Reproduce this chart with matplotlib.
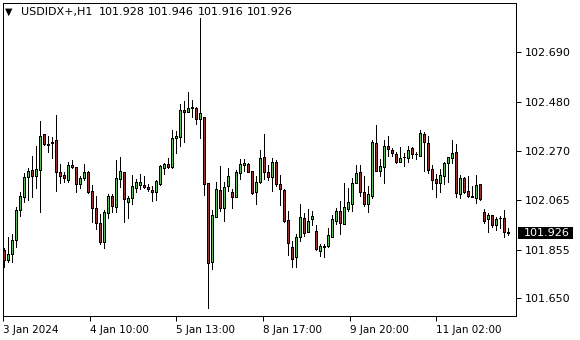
import matplotlib
matplotlib.use("Agg")
import matplotlib.pyplot as plt
import matplotlib.patches as mpatches
import numpy as np

symbol = "USDIDX+,H1"

# hourly OHLC
opens = [
    101.853, 101.812, 101.835, 101.894, 102.021, 102.077, 102.160, 102.190, 102.167, 102.192,
    102.342, 102.298, 102.311, 102.318, 102.181, 102.170, 102.150, 102.212, 102.202, 102.131,
    102.158, 102.184, 102.101, 102.029, 101.968, 101.885, 102.010, 102.081, 102.033, 102.152,
    102.181, 102.057, 102.071, 102.114, 102.128, 102.128, 102.119, 102.105, 102.097, 102.133,
    102.201, 102.216, 102.205, 102.328, 102.332, 102.445, 102.438, 102.455, 102.452, 102.405,
    102.414, 102.135, 101.803, 101.994, 102.105, 102.032, 102.125, 102.097, 102.078, 102.180,
    102.213, 102.216, 102.187, 102.099, 102.139, 102.246, 102.181, 102.163, 102.224, 102.132,
    102.108, 101.980, 101.867, 101.822, 101.909, 101.987, 101.928, 101.983, 101.933, 101.850,
    101.867, 101.871, 101.909, 101.977, 102.016, 101.964, 102.026, 102.049, 102.137, 102.181,
    102.098, 102.046, 102.082, 102.305, 102.186, 102.205, 102.293, 102.276, 102.257, 102.226,
    102.244, 102.241, 102.283, 102.258, 102.252, 102.343, 102.305, 102.194, 102.153, 102.135,
    102.167, 102.222, 102.241, 102.266, 102.088, 102.156, 102.102, 102.080, 102.074, 102.131,
    102.012, 101.983, 102.000, 101.957, 101.989, 101.987, 101.928,
]
highs = [
    101.861, 101.909, 101.920, 102.036, 102.097, 102.177, 102.198, 102.252, 102.293, 102.398,
    102.345, 102.335, 102.332, 102.424, 102.216, 102.181, 102.226, 102.233, 102.204, 102.167,
    102.216, 102.187, 102.128, 102.081, 102.004, 102.021, 102.088, 102.088, 102.233, 102.246,
    102.183, 102.081, 102.170, 102.153, 102.173, 102.166, 102.133, 102.123, 102.149, 102.212,
    102.222, 102.243, 102.360, 102.357, 102.469, 102.483, 102.520, 102.487, 102.456, 102.834,
    102.416, 102.136, 102.022, 102.142, 102.208, 102.142, 102.198, 102.109, 102.190, 102.238,
    102.238, 102.219, 102.188, 102.166, 102.276, 102.342, 102.212, 102.241, 102.233, 102.170,
    102.109, 102.018, 101.891, 101.919, 102.047, 102.008, 102.026, 102.018, 101.958, 101.877,
    101.877, 101.945, 102.001, 102.029, 102.060, 102.136, 102.116, 102.156, 102.212, 102.212,
    102.166, 102.123, 102.318, 102.381, 102.238, 102.318, 102.335, 102.283, 102.268, 102.290,
    102.262, 102.293, 102.287, 102.268, 102.360, 102.353, 102.335, 102.212, 102.173, 102.194,
    102.226, 102.247, 102.318, 102.301, 102.170, 102.163, 102.166, 102.123, 102.170, 102.132,
    102.026, 102.008, 102.001, 101.994, 101.997, 102.022, 101.946,
]
lows = [
    101.782, 101.803, 101.801, 101.867, 101.998, 102.057, 102.064, 102.078, 102.114, 102.015,
    102.297, 102.268, 102.241, 102.102, 102.135, 102.142, 102.142, 102.198, 102.097, 102.114,
    102.149, 102.094, 101.972, 101.940, 101.878, 101.860, 101.989, 102.012, 102.012, 102.120,
    101.972, 101.989, 102.046, 102.097, 102.111, 102.114, 102.102, 102.061, 102.064, 102.128,
    102.175, 102.198, 102.201, 102.264, 102.294, 102.308, 102.435, 102.416, 102.384, 102.328,
    102.085, 101.609, 101.774, 101.992, 102.018, 101.975, 102.102, 102.032, 102.076, 102.152,
    102.188, 102.183, 102.088, 102.049, 102.137, 102.153, 102.149, 102.102, 102.123, 102.043,
    101.972, 101.832, 101.782, 101.782, 101.892, 101.913, 101.927, 101.958, 101.855, 101.829,
    101.822, 101.867, 101.908, 101.964, 101.919, 101.963, 102.018, 102.019, 102.136, 102.081,
    102.040, 102.015, 102.074, 102.187, 102.167, 102.137, 102.252, 102.250, 102.219, 102.224,
    102.209, 102.226, 102.243, 102.236, 102.252, 102.188, 102.180, 102.109, 102.078, 102.099,
    102.131, 102.142, 102.222, 102.076, 102.071, 102.095, 102.078, 102.076, 102.053, 102.064,
    101.966, 101.930, 101.951, 101.937, 101.945, 101.909, 101.916,
]
closes = [
    101.811, 101.835, 101.894, 102.021, 102.080, 102.160, 102.186, 102.167, 102.195, 102.335,
    102.300, 102.301, 102.305, 102.184, 102.167, 102.156, 102.211, 102.205, 102.131, 102.157,
    102.181, 102.097, 102.029, 101.968, 101.888, 102.013, 102.081, 102.040, 102.156, 102.187,
    102.067, 102.071, 102.122, 102.139, 102.139, 102.118, 102.111, 102.097, 102.143, 102.208,
    102.216, 102.205, 102.325, 102.335, 102.445, 102.438, 102.453, 102.457, 102.405, 102.431,
    102.133, 101.800, 102.001, 102.109, 102.032, 102.118, 102.166, 102.078, 102.181, 102.218,
    102.219, 102.184, 102.093, 102.140, 102.242, 102.184, 102.163, 102.224, 102.131, 102.109,
    101.975, 101.881, 101.813, 101.906, 101.991, 101.923, 101.977, 101.995, 101.856, 101.868,
    101.869, 101.915, 101.983, 102.018, 101.968, 102.033, 102.054, 102.136, 102.178, 102.099,
    102.046, 102.090, 102.309, 102.188, 102.208, 102.293, 102.279, 102.264, 102.226, 102.241,
    102.245, 102.274, 102.257, 102.257, 102.346, 102.308, 102.191, 102.149, 102.137, 102.169,
    102.219, 102.245, 102.262, 102.095, 102.156, 102.099, 102.082, 102.079, 102.126, 102.068,
    101.977, 102.001, 101.957, 101.984, 101.987, 101.928, 101.926,
]

price_ticks = [102.690, 102.480, 102.270, 102.065, 101.855, 101.650]
time_labels = ["3 Jan 2024", "4 Jan 10:00", "5 Jan 13:00", "8 Jan 17:00", "9 Jan 20:00", "11 Jan 02:00"]
time_pos = [-0.15, 21.5, 43.2, 64.85, 86.5, 108.2]

W, H = 580, 340
fig = plt.figure(figsize=(W / 100, H / 100), dpi=100)
fig.patch.set_facecolor("white")
ax = fig.add_axes([2.5 / W, 24 / H, 513 / W, 313 / H])

o = np.array(opens)
h = np.array(highs)
l = np.array(lows)
c = np.array(closes)
x = np.arange(len(o))
up = c >= o

px = 0.72  # one pixel in points at dpi 100

# wicks then bodies
ax.vlines(x, l, h, color="black", lw=px, antialiased=False, zorder=2)
ax.bar(x, np.abs(c - o), bottom=np.minimum(o, c), width=0.5,
       color=np.where(up, "#22E622", "#E01414"), edgecolor="black",
       linewidth=px, antialiased=False, zorder=3)

ax.set_xlim(-0.25, 128.0)
ax.set_ylim(101.574, 102.897)

for s in ax.spines.values():
    s.set_color("black")
    s.set_linewidth(px)

ax.yaxis.tick_right()
ax.set_yticks(price_ticks, [f"{p:.3f}" for p in price_ticks])
ax.tick_params(axis="y", direction="out", length=3.5, width=px, pad=3.5,
               labelsize=8, colors="black")
ax.set_xticks(time_pos, time_labels)
ax.tick_params(axis="x", direction="out", length=3.5, width=px, pad=3,
               labelsize=7.5, colors="black")
for t in ax.get_xticklabels():
    t.set_ha("left")

# current price tag
tr = ax.get_yaxis_transform()
ax.add_patch(mpatches.Rectangle((1.0049, c[-1] - 0.0255), 0.107, 0.051,
                                transform=tr, facecolor="black", edgecolor="none",
                                clip_on=False, zorder=5))
ax.text(1.0155, c[-1], f"{c[-1]:.3f}", transform=tr, color="white", fontsize=8,
        va="center", ha="left", clip_on=False, zorder=6)

# header line: symbol then O H L C of the last bar
yh = 1 - 12 / H
fig.text(5 / W, yh, "\u25bc", fontsize=7, va="center", ha="left", color="black")
fig.text(21.5 / W, yh, symbol, fontsize=8, va="center", ha="left", color="black")
for k, v in enumerate([o[-1], h[-1], l[-1], c[-1]]):
    fig.text((99 + 49.3 * k) / W, yh, f"{v:.3f}", fontsize=8,
             va="center", ha="left", color="black")

fig.savefig("out.png", dpi=100)
